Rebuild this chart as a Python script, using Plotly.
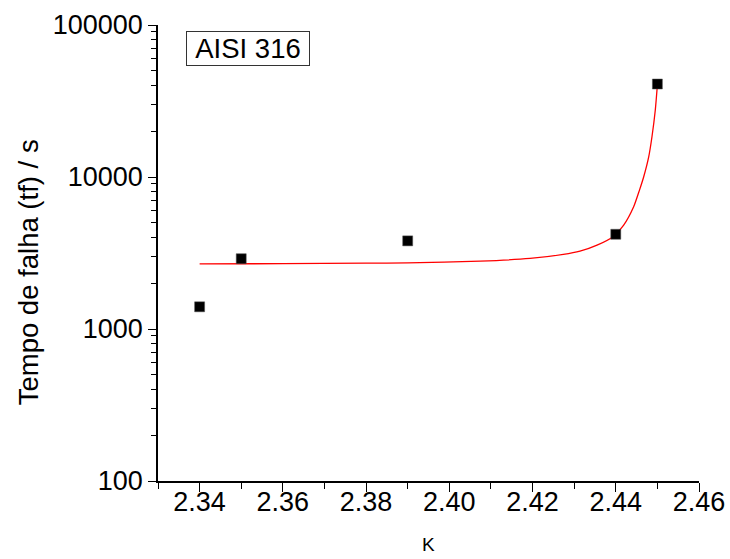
import plotly.graph_objects as go

# Measured failure times for AISI 316 versus K
k_values = [2.34, 2.35, 2.39, 2.44, 2.45]
failure_time_s = [1400, 2900, 3800, 4200, 40900]

# Fitted curve
fit_k = [2.34, 2.36, 2.38, 2.39, 2.4074, 2.4194, 2.4274, 2.4314, 2.4355,
         2.4395, 2.4419, 2.4443, 2.4457, 2.4467, 2.4479, 2.4487, 2.4495, 2.45]
fit_t = [2680, 2690, 2710, 2720, 2795, 2912, 3094, 3252, 3562,
         4082, 4819, 6364, 8200, 10000, 13500, 18400, 27600, 40300]

y_tick_vals = [100, 1000, 10000, 100000]
y_tick_text = ["100", "1000", "10000", "100000"]

FONT = "Liberation Sans, Arial, sans-serif"

fig = go.Figure()
fig.add_trace(go.Scatter(
    x=fit_k, y=fit_t, mode="lines",
    line=dict(color="#ff0000", width=1.3, shape="spline", smoothing=0.6),
    showlegend=False, hoverinfo="skip",
))
fig.add_trace(go.Scatter(
    x=k_values, y=failure_time_s, mode="markers",
    marker=dict(symbol="square", size=10, color="black",
                line=dict(color="#555555", width=0.5)),
    showlegend=False,
))

fig.update_layout(
    width=730, height=559,
    margin=dict(l=158, r=31, t=25, b=78, autoexpand=False),
    paper_bgcolor="white", plot_bgcolor="white",
    font=dict(family=FONT, color="black"),
    xaxis=dict(
        range=[2.33, 2.46], tick0=2.34, dtick=0.02, tickformat=".2f",
        automargin=False, ticklabelstandoff=-13,
        showgrid=False, zeroline=False,
        showline=True, linecolor="black", linewidth=1.5,
        ticks="outside", ticklen=9, tickwidth=1.3, tickcolor="black",
        tickfont=dict(size=27, family=FONT),
        minor=dict(dtick=0.01, ticks="outside", ticklen=6, tickwidth=1.3,
                   tickcolor="black", showgrid=False),
    ),
    yaxis=dict(
        type="log", range=[2, 5],
        tickvals=y_tick_vals, ticktext=y_tick_text,
        automargin=False,
        showgrid=False, zeroline=False,
        showline=True, linecolor="black", linewidth=1.5,
        ticks="outside", ticklen=8, tickwidth=1.3, tickcolor="black",
        tickfont=dict(size=27, family=FONT),
        minor=dict(dtick="D1", ticks="outside", ticklen=5, tickwidth=1.3,
                   tickcolor="black", showgrid=False),
    ),
    annotations=[
        dict(
            text="AISI 316", xref="paper", yref="paper",
            x=0.051, y=0.986, xanchor="left", yanchor="top",
            width=120, height=31, align="center",
            showarrow=False, font=dict(size=27.5, family=FONT, color="black"),
            bordercolor="#333333", borderwidth=1, borderpad=1, bgcolor="white",
        ),
        dict(
            text="Tempo de falha (tf) / s", xref="paper", yref="paper",
            x=-0.24, y=0.458, xanchor="center", yanchor="middle",
            textangle=-90, showarrow=False,
            font=dict(size=27.5, family=FONT, color="black"),
        ),
        dict(
            text="K", xref="paper", yref="paper",
            x=0.5, y=-0.14, xanchor="center", yanchor="middle",
            showarrow=False, font=dict(size=19, family=FONT, color="black"),
        ),
    ],
)

fig.write_html("out.html")
